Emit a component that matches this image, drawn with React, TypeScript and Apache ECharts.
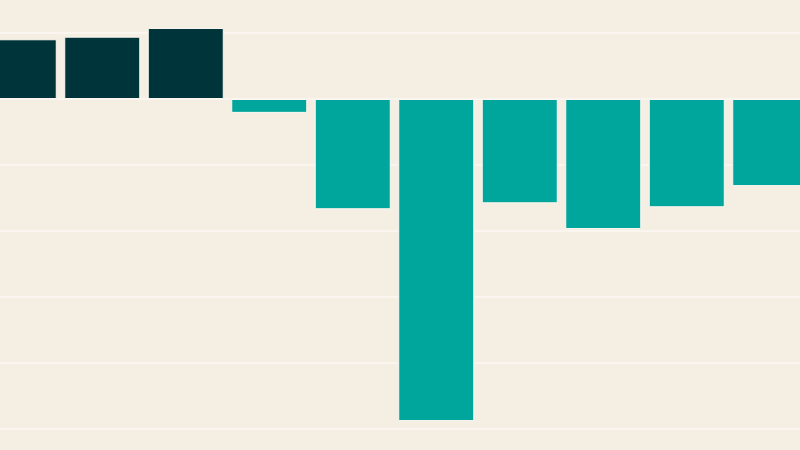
import React, { useEffect, useRef } from "react";
import * as echarts from "echarts";

const categories = ["1", "2", "3", "4", "5", "6", "7", "8", "9", "10"];
const values = [0.905, 0.944, 1.076, -0.21, -1.67, -4.88, -1.58, -1.97, -1.64, -1.32];
const yTicks = { min: -5, max: 2, interval: 1 };

const POS = "#00343b";
const NEG = "#00a59b";
const BG = "#f5efe3";

export default function App() {
  const ref = useRef<HTMLDivElement>(null);
  useEffect(() => {
    document.body.style.margin = "0";
    const chart = echarts.init(ref.current!, null, { renderer: "svg" });
    chart.setOption({
      animation: false,
      backgroundColor: BG,
      grid: { left: 0, width: 835, top: 0, height: 462, containLabel: false },
      xAxis: {
        type: "category",
        data: categories,
        axisLine: { show: false },
        axisTick: { show: false },
        axisLabel: { show: false },
        splitLine: { show: false },
      },
      yAxis: {
        type: "value",
        min: yTicks.min,
        max: yTicks.max,
        interval: yTicks.interval,
        axisLine: { show: false },
        axisTick: { show: false },
        axisLabel: { show: false },
        splitLine: { show: true, lineStyle: { color: "#faf6ef", width: 2 } },
      },
      series: [
        {
          type: "bar",
          data: values.map((v) => ({
            value: v,
            itemStyle: { color: v >= 0 ? POS : NEG },
          })),
          barWidth: 76,
          itemStyle: { borderColor: "#fbf7f0", borderWidth: 1 },
        },
      ],
    });
    return () => chart.dispose();
  }, []);
  return (
    <div style={{ position: "relative", width: 800, height: 450, overflow: "hidden", background: BG }}>
      <div
        ref={ref}
        style={{ position: "absolute", left: -22.75, top: -33, width: 835, height: 500 }}
      />
    </div>
  );
}
